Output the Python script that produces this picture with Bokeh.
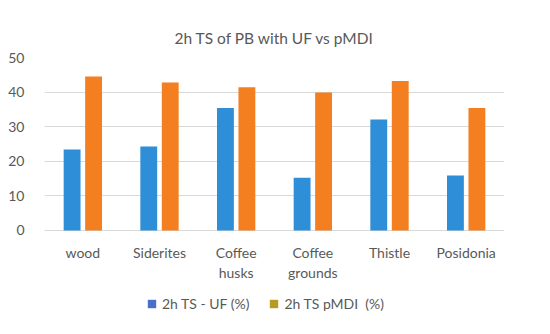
from bokeh.plotting import figure
from bokeh.models import ColumnDataSource, Range1d, FactorRange, Legend, LegendItem
from bokeh.transform import dodge
from bokeh.core.properties import value
from bokeh.embed import file_html
from bokeh.resources import INLINE

categories = ["wood", "Siderites", "Coffee\nhusks", "Coffee\ngrounds", "Thistle", "Posidonia"]
uf_values = [23.4, 24.3, 35.4, 15.2, 32.1, 15.9]
pmdi_values = [44.5, 42.8, 41.4, 39.9, 43.2, 35.4]
series_names = ["2h TS - UF (%)", "2h TS pMDI  (%)"]
y_ticks = [0, 10, 20, 30, 40, 50]

FONT = "Lato"
GREY = "#595959"

source = ColumnDataSource(dict(cat=categories, uf=uf_values, pmdi=pmdi_values,
                               zero=[0] * len(categories)))

p = figure(x_range=FactorRange(*categories), y_range=Range1d(-24.3, 50),
           width=542, height=318, output_backend="svg", toolbar_location=None,
           title="2h TS of PB with UF vs pMDI")
p.min_border_left = 44
p.min_border_right = 38
p.min_border_top = 57
p.min_border_bottom = 4

p.title.align = "center"
p.title.text_font = FONT
p.title.text_font_size = "15.5px"
p.title.text_font_style = "normal"
p.title.text_color = GREY
p.title.standoff = 21

p.outline_line_color = None
p.background_fill_color = "white"
p.border_fill_color = "white"

r1 = p.vbar(x=dodge("cat", -0.14, range=p.x_range), top="uf", width=0.22, source=source,
            fill_color="#2E8FD8", line_color=None)
r2 = p.vbar(x=dodge("cat", 0.14, range=p.x_range), top="pmdi", width=0.22, source=source,
            fill_color="#F47F20", line_color=None)

# category labels under the zero line
p.text(x="cat", y="zero", text="cat", source=source, text_align="center",
       text_baseline="top", y_offset=14, text_font=value(FONT), text_font_size="14px",
       text_color=GREY, text_line_height=1.17)

# legend swatches
nan = float("nan")
s1 = p.scatter(x=[categories[0]], y=[nan], marker="square", fill_color="#4A6FC9", line_color=None)
s2 = p.scatter(x=[categories[0]], y=[nan], marker="square", fill_color="#B79B24", line_color=None)

legend = Legend(items=[LegendItem(label=series_names[0], renderers=[s1]),
                       LegendItem(label=series_names[1], renderers=[s2])],
                orientation="horizontal", location=(97, 0))
legend.label_text_font = FONT
legend.label_text_font_size = "14px"
legend.label_text_color = GREY
legend.glyph_width = 21
legend.glyph_height = 21
legend.label_standoff = 0
legend.spacing = 14
legend.border_line_color = None
legend.background_fill_alpha = 0
legend.margin = 0
legend.padding = 0
p.add_layout(legend, "center")

p.xaxis.visible = False
p.xgrid.grid_line_color = None
p.ygrid.grid_line_color = "#D9D9D9"
p.ygrid.ticker = y_ticks
p.yaxis.ticker = y_ticks
p.yaxis.axis_line_color = None
p.yaxis.major_tick_line_color = None
p.yaxis.minor_tick_line_color = None
p.yaxis.major_label_text_font = FONT
p.yaxis.major_label_text_font_size = "14px"
p.yaxis.major_label_text_color = GREY
p.yaxis.major_label_standoff = 14

open("out.html", "w").write(file_html(p, INLINE))
